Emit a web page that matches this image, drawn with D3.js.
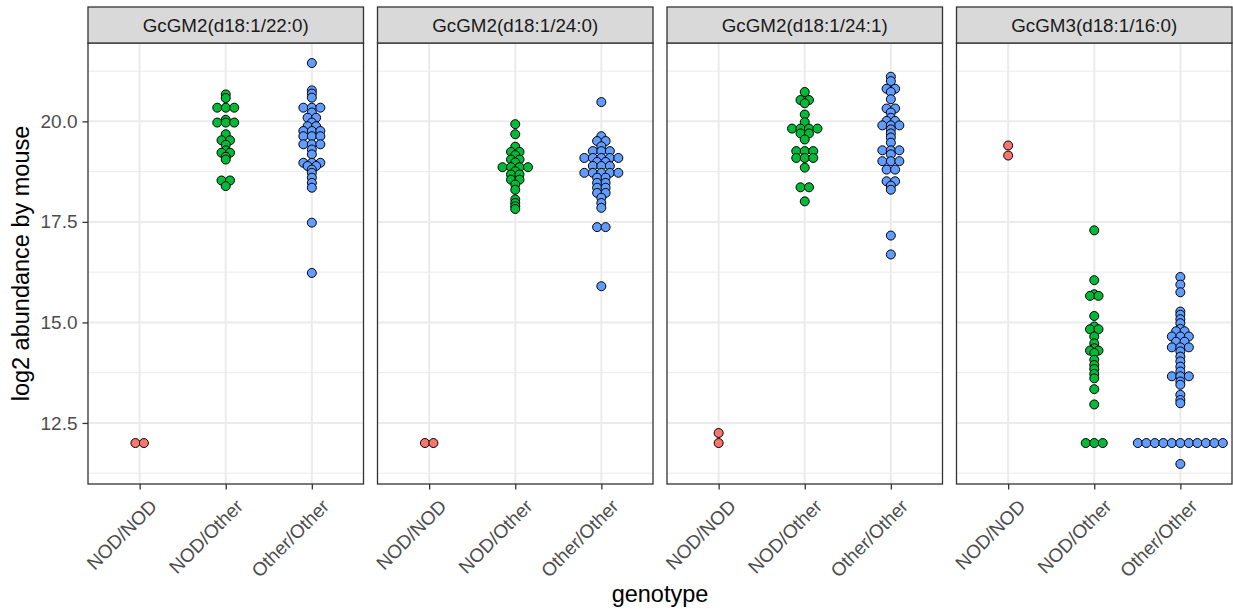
<!DOCTYPE html>
<html>
<head>
<meta charset="utf-8">
<script src="https://cdn.jsdelivr.net/npm/d3@7"></script>
<style>
  body { margin: 0; background: #fff; }
  svg { display: block; }
  text { font-family: "Liberation Sans", Arial, Helvetica, sans-serif; }
</style>
</head>
<body>
<svg id="chart" width="1233" height="609"></svg>
<script>
// ---- data -------------------------------------------------------------
const lipids = ["GcGM2(d18:1/22:0)", "GcGM2(d18:1/24:0)", "GcGM2(d18:1/24:1)", "GcGM3(d18:1/16:0)"];
const genotypes = ["NOD/NOD", "NOD/Other", "Other/Other"];
const genotypeColors = ["#F8766D", "#00BA38", "#619CFF"];
const yTickValues = [12.5, 15, 17.5, 20];

// GcGM2(d18:1/22:0)
const gm2_22_nodNod = [12.0, 12.0];
const gm2_22_nodOther = [20.67, 20.58, 20.34, 20.34, 20.34, 20.04, 19.97, 19.97, 19.97, 19.68, 19.53, 19.53,
  19.42, 19.28, 19.22, 19.22, 19.12, 19.05, 18.53, 18.53, 18.39];
const gm2_22_otherOther = [21.45, 20.77, 20.69, 20.59, 20.34, 20.34, 20.34, 20.22, 20.09, 20.09, 19.97, 19.88, 19.88,
  19.76, 19.76, 19.76, 19.63, 19.63, 19.63, 19.43, 19.43, 19.43, 19.3, 19.18, 18.97, 18.97, 18.97, 18.89, 18.89,
  18.8, 18.72, 18.6, 18.47, 18.35, 17.48, 16.23];

// GcGM2(d18:1/24:0)
const gm2_24_nodNod = [12.0, 12.0];
const gm2_24_nodOther = [19.93, 19.68, 19.37, 19.24, 19.24, 19.16, 19.05, 19.05, 18.98, 18.86, 18.86, 18.86, 18.86,
  18.76, 18.68, 18.68, 18.55, 18.55, 18.43, 18.3, 18.06, 17.97, 17.89, 17.82];
const gm2_24_otherOther = [20.48, 19.63, 19.51, 19.51, 19.38, 19.26, 19.26, 19.26, 19.09, 19.09, 19.09, 19.09, 19.09,
  18.99, 18.99, 18.89, 18.89, 18.89, 18.72, 18.72, 18.72, 18.72, 18.72, 18.6, 18.6, 18.47, 18.47, 18.35, 18.35,
  18.22, 18.22, 18.1, 17.97, 17.85, 17.37, 17.37, 15.9];

// GcGM2(d18:1/24:1)
const gm2_241_nodNod = [12.25, 12.0];
const gm2_241_nodOther = [20.73, 20.53, 20.53, 20.45, 20.17, 19.98, 19.82, 19.82, 19.82, 19.82, 19.7, 19.7, 19.55,
  19.26, 19.26, 19.26, 19.09, 19.09, 19.09, 18.85, 18.36, 18.36, 18.01];
const gm2_241_otherOther = [21.11, 21.0, 20.81, 20.81, 20.73, 20.55, 20.32, 20.32, 20.22, 20.09, 20.01, 20.01,
  19.9, 19.9, 19.9, 19.8, 19.7, 19.6, 19.47, 19.28, 19.28, 19.28, 19.18, 19.01, 19.01, 19.01, 18.8, 18.8,
  18.51, 18.51, 18.4, 18.3, 17.16, 16.69];

// GcGM3(d18:1/16:0)
const gm3_16_nodNod = [19.4, 19.15];
const gm3_16_nodOther = [17.29, 16.05, 15.7, 15.66, 15.66, 15.16, 14.9, 14.83, 14.83, 14.65, 14.48, 14.36, 14.3, 14.3,
  14.24, 14.07, 13.94, 13.84, 13.72, 13.61, 13.34, 12.96, 12.0, 12.0, 12.0];
const gm3_16_otherOther = [16.13, 15.94, 15.75, 15.27, 15.19, 15.08, 14.98, 14.84, 14.78, 14.78, 14.65, 14.65, 14.65,
  14.52, 14.52, 14.38, 14.38, 14.38, 14.28, 14.15, 14.03, 13.9, 13.78, 13.66, 13.66, 13.66, 13.53, 13.45,
  13.2, 13.07, 12.99, 12.0, 12.0, 12.0, 12.0, 12.0, 12.0, 12.0, 12.0, 12.0, 12.0, 12.0, 11.48];

const panelSeries = [
  [gm2_22_nodNod, gm2_22_nodOther, gm2_22_otherOther],
  [gm2_24_nodNod, gm2_24_nodOther, gm2_24_otherOther],
  [gm2_241_nodNod, gm2_241_nodOther, gm2_241_otherOther],
  [gm3_16_nodNod, gm3_16_nodOther, gm3_16_otherOther]
];

// ---- layout -----------------------------------------------------------
const W = 1233, H = 609;
const plotLeft = 88, plotRight = 1232;
const stripTop = 7, stripH = 36;
const panelTop = stripTop + stripH, panelBottom = 484;
const gap = 14;
const panelW = (plotRight - plotLeft - gap * (lipids.length - 1)) / lipids.length;

const pointR = 4.5;      // drawn radius (px)
const swarmStep = 8.5;   // horizontal spacing between neighbours in a row (px)
const binWidth = 0.06;   // vertical bin size used to group points into rows (data units)

const tickFont = 19, stripFont = 18.8, titleFont = 23.5;

const svg = d3.select("#chart");

// shared y scale with 5% expansion on the data range
const allValues = panelSeries.flat(2);
const [vMin, vMax] = d3.extent(allValues);
const pad = (vMax - vMin) * 0.05;
const y = d3.scaleLinear().domain([vMin - pad, vMax + pad]).range([panelBottom, panelTop]);

const majorStep = yTickValues[1] - yTickValues[0];
const minorTicks = d3.range(yTickValues[0] - majorStep / 2, y.domain()[1], majorStep)
  .filter(v => v >= y.domain()[0] && v <= y.domain()[1]);

// "center" beeswarm: points whose values fall in the same bin are laid out in a centred row
function centerSwarm(values) {
  const groups = d3.group(values, v => Math.round(v / binWidth));
  const out = [];
  for (const [, vals] of groups) {
    const n = vals.length;
    vals.forEach((v, k) => out.push({ value: v, offset: (k - (n - 1) / 2) * swarmStep }));
  }
  return out;
}

lipids.forEach((lipid, pi) => {
  const x0 = plotLeft + pi * (panelW + gap);
  const x = d3.scalePoint().domain(genotypes).range([x0, x0 + panelW]).padding(0.6);
  const g = svg.append("g");

  // panel background
  g.append("rect").attr("x", x0).attr("y", panelTop).attr("width", panelW)
    .attr("height", panelBottom - panelTop).attr("fill", "#fff");

  // grid lines
  g.selectAll(".minor").data(minorTicks).join("line")
    .attr("x1", x0).attr("x2", x0 + panelW)
    .attr("y1", d => y(d)).attr("y2", d => y(d))
    .attr("stroke", "#EBEBEB").attr("stroke-width", 1);
  g.selectAll(".major").data(yTickValues).join("line")
    .attr("x1", x0).attr("x2", x0 + panelW)
    .attr("y1", d => y(d)).attr("y2", d => y(d))
    .attr("stroke", "#EBEBEB").attr("stroke-width", 2);
  g.selectAll(".vmajor").data(genotypes).join("line")
    .attr("x1", d => x(d)).attr("x2", d => x(d))
    .attr("y1", panelTop).attr("y2", panelBottom)
    .attr("stroke", "#EBEBEB").attr("stroke-width", 2);

  // points
  panelSeries[pi].forEach((vals, gi) => {
    const pts = centerSwarm(vals);
    g.append("g").selectAll("circle").data(pts).join("circle")
      .attr("cx", d => x(genotypes[gi]) + d.offset)
      .attr("cy", d => y(d.value))
      .attr("r", pointR)
      .attr("fill", genotypeColors[gi])
      .attr("stroke", "#000").attr("stroke-width", 1);
  });

  // panel border
  g.append("rect").attr("x", x0).attr("y", panelTop).attr("width", panelW)
    .attr("height", panelBottom - panelTop)
    .attr("fill", "none").attr("stroke", "#333").attr("stroke-width", 1.3);

  // strip
  g.append("rect").attr("x", x0).attr("y", stripTop).attr("width", panelW).attr("height", stripH)
    .attr("fill", "#D9D9D9").attr("stroke", "#333").attr("stroke-width", 1.3);
  g.append("text").attr("x", x0 + panelW / 2).attr("y", stripTop + stripH / 2)
    .attr("dy", "0.36em").attr("text-anchor", "middle")
    .attr("font-size", stripFont).attr("fill", "#1A1A1A").text(lipid);

  // x axis
  const xAxis = g.append("g").attr("transform", `translate(0,${panelBottom})`)
    .call(d3.axisBottom(x).tickSize(5.5).tickSizeOuter(0));
  xAxis.attr("font-size", null).attr("font-family", null);
  xAxis.select(".domain").remove();
  xAxis.selectAll(".tick line").attr("stroke", "#333").attr("stroke-width", 1.3);
  xAxis.selectAll(".tick text")
    .attr("font-size", tickFont).attr("fill", "#4D4D4D")
    .attr("text-anchor", "end")
    .attr("x", null).attr("y", null).attr("dy", null)
    .attr("transform", "translate(18,23.5) rotate(-45)");

  // y axis on the first panel only
  if (pi === 0) {
    const yAxis = g.append("g").attr("transform", `translate(${x0},0)`)
      .call(d3.axisLeft(y).tickValues(yTickValues).tickFormat(d3.format(".1f")).tickSize(5.5).tickPadding(5));
    yAxis.attr("font-size", null).attr("font-family", null);
    yAxis.select(".domain").remove();
    yAxis.selectAll(".tick line").attr("stroke", "#333").attr("stroke-width", 1.3);
    yAxis.selectAll(".tick text").attr("font-size", tickFont).attr("fill", "#4D4D4D");
  }
});

// axis titles
svg.append("text")
  .attr("x", (plotLeft + plotRight) / 2).attr("y", 602)
  .attr("text-anchor", "middle").attr("font-size", titleFont).attr("fill", "#000")
  .text("genotype");
svg.append("text")
  .attr("transform", `translate(29,${(panelTop + panelBottom) / 2}) rotate(-90)`)
  .attr("text-anchor", "middle").attr("font-size", titleFont).attr("fill", "#000")
  .text("log2 abundance by mouse");
</script>
</body>
</html>
